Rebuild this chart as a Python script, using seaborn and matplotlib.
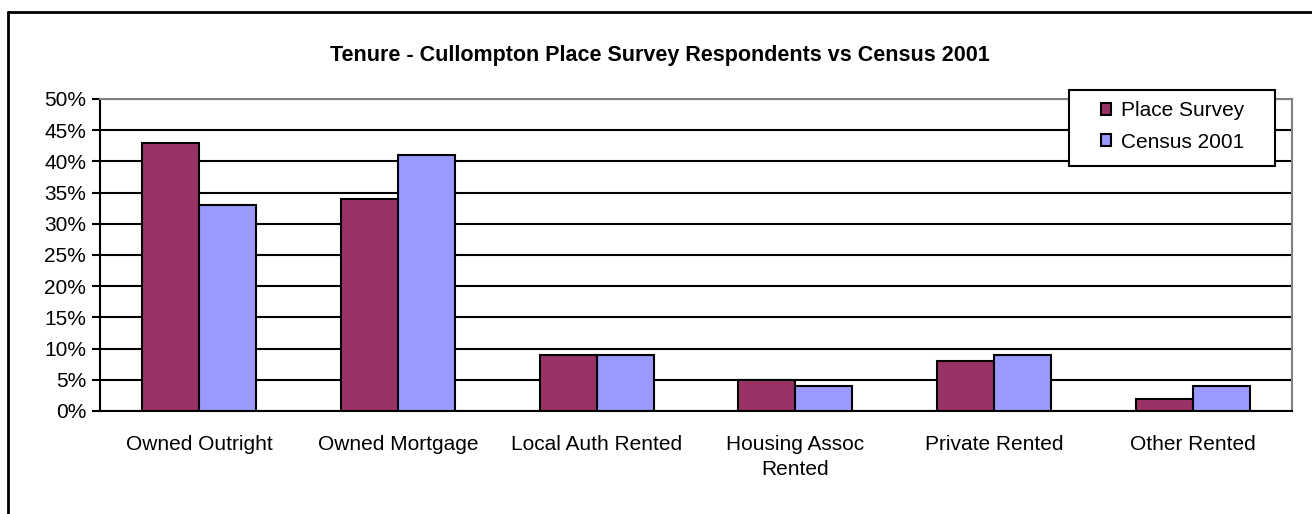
import matplotlib
matplotlib.use("Agg")
import matplotlib.pyplot as plt
import seaborn as sns
import pandas as pd
from matplotlib.lines import Line2D
from matplotlib.patches import Rectangle
from matplotlib.ticker import FuncFormatter, MultipleLocator, FixedLocator

categories = ["Owned Outright", "Owned Mortgage", "Local Auth Rented",
              "Housing Assoc\nRented", "Private Rented", "Other Rented"]
place_survey = [43, 34, 9, 5, 8, 2]
census_2001 = [33, 41, 9, 4, 9, 4]
series_names = ["Place Survey", "Census 2001"]
title = "Tenure - Cullompton Place Survey Respondents vs Census 2001"

df = pd.DataFrame({
    "cat": categories * 2,
    "value": place_survey + census_2001,
    "series": [series_names[0]] * len(categories) + [series_names[1]] * len(categories),
})

sns.set_style("white")
plt.rcParams['font.family'] = ['Liberation Sans', 'DejaVu Sans']
plt.rcParams['text.color'] = 'black'
plt.rcParams['xtick.color'] = 'black'
plt.rcParams['ytick.color'] = 'black'

W, H = 1312, 514
fig = plt.figure(figsize=(W / 100, H / 100), dpi=100)
ax = fig.add_axes([100 / W, (H - 411) / H, (1292 - 100) / W, (411 - 99) / H])

sns.barplot(data=df, x="cat", y="value", hue="series", order=categories,
            hue_order=series_names, palette=["#993366", "#9999FF"],
            width=0.575, gap=0, edgecolor="black", linewidth=1.5,
            saturation=1, ax=ax, legend=True, zorder=3)

ax.set_ylim(0, 50)
ax.set_xlim(-0.5, 5.5)
ax.yaxis.set_major_locator(MultipleLocator(5))
ax.yaxis.set_major_formatter(FuncFormatter(lambda v, p: f"{v:.0f}%"))
ax.grid(axis="y", color="black", linewidth=1.5, zorder=0)
ax.set_axisbelow(True)
ax.set_xlabel("")
ax.set_ylabel("")

ax.xaxis.set_minor_locator(FixedLocator([i - 0.5 for i in range(7)]))
ax.tick_params(axis="x", which="major", length=0, pad=17, labelsize=15, labelcolor="black")
ax.tick_params(axis="x", which="minor", length=6, width=1.5, color="black", direction="out")
ax.tick_params(axis="y", length=6, width=1.5, color="black", direction="out", labelsize=15,
               pad=4, left=True, labelcolor="black")
for lbl in ax.get_xticklabels():
    lbl.set_linespacing(1.45)

for s in ["left", "bottom"]:
    ax.spines[s].set_color("black")
    ax.spines[s].set_linewidth(1.5)
for s in ["top", "right"]:
    ax.spines[s].set_visible(True)
    ax.spines[s].set_color("#808080")
    ax.spines[s].set_linewidth(1.5)

# legend box drawn as a rectangle, legend entries placed inside it
fig.add_artist(Rectangle((1069 / W, 1 - 166 / H), (1275 - 1069) / W, (166 - 90) / H,
                         transform=fig.transFigure, facecolor="white", edgecolor="black",
                         linewidth=1.5, zorder=5))
leg = ax.legend(loc="upper left", bbox_to_anchor=(1101 / W, 1 - 101 / H),
                bbox_transform=fig.transFigure,
                frameon=False, fontsize=15,
                handlelength=0.5, handleheight=0.5, handletextpad=0.45,
                borderpad=0, labelspacing=0.6, borderaxespad=0)
leg.set_zorder(6)
leg.remove()
fig.add_artist(leg)
for h in leg.legend_handles:
    h.set_edgecolor("black")
    h.set_linewidth(1.5)

fig.text(660 / W, 1 - 55 / H, title, ha="center", va="center", fontsize=15.5, fontweight="bold")

fig.add_artist(Line2D([8 / W, 8 / W], [0, 1 - 12 / H], color="black", linewidth=2, transform=fig.transFigure))
fig.add_artist(Line2D([8 / W, 1], [1 - 12 / H, 1 - 12 / H], color="black", linewidth=2, transform=fig.transFigure))

fig.savefig("out.png", dpi=100, facecolor="white")
